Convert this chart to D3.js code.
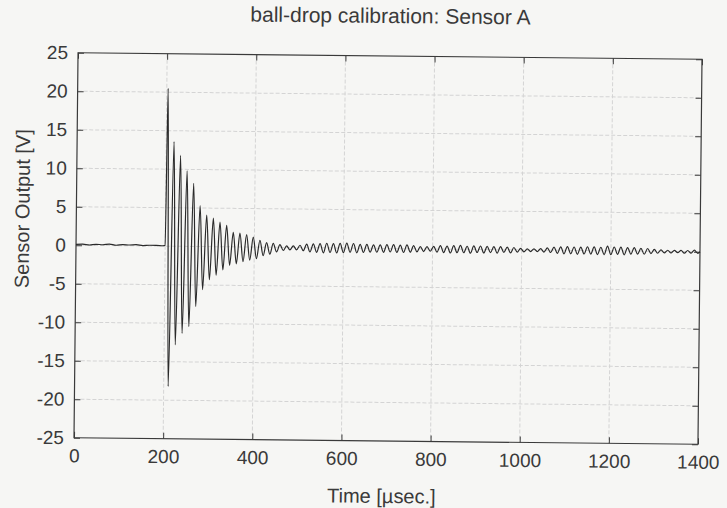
<!DOCTYPE html>
<html>
<head>
<meta charset="utf-8">
<script src="https://cdn.jsdelivr.net/npm/d3@7"></script>
<style>
  body { margin: 0; background: #f6f6f4; }
  svg { display: block; }
</style>
</head>
<body>
<div id="chart-area"></div>
<script>
// pre-trigger baseline
var preTime  = [0, 15, 30, 45, 60, 75, 90, 105, 120, 135, 150, 165, 180, 195, 200];
var preValue = [0.1, 0.15, 0.05, 0.15, 0.1, 0.2, 0.05, 0.15, 0.1, 0.15, 0.05, 0.1, 0.1, 0.05, 0.1];

// ring-down peaks and troughs after the ball hits
var ringTime  = [203, 210, 217.5, 225, 232.5, 240, 247.5, 255, 262.5, 270, 277.5, 285, 292.5, 300,
  307.5, 315, 322.5, 330, 337.5, 345, 352.5, 360, 367.5, 375, 382.5, 390, 397.5, 405, 412.5, 420, 427.5, 435];
var ringValue = [20.5, -18.2, 13.6, -12.8, 11.8, -11.3, 9.8, -10.4, 8.2, -7.8, 5.3, -5.6, 4.1, -4.3,
  3.7, -3.7, 3.2, -3.0, 2.8, -2.4, 1.9, -2.2, 1.8, -1.9, 1.6, -1.7, 1.3, -1.5, 0.9, -1.1, 0.6, -0.9];

// small residual oscillation
var tailTime = [442.5, 450, 457.5, 465, 472.5, 480, 487.5, 495, 502.5, 510, 517.5, 525, 532.5, 540, 547.5, 555,
  562.5, 570, 577.5, 585, 592.5, 600, 607.5, 615, 622.5, 630, 637.5, 645, 652.5, 660, 667.5, 675,
  682.5, 690, 697.5, 705, 712.5, 720, 727.5, 735, 742.5, 750, 757.5, 765, 772.5, 780, 787.5, 795,
  802.5, 810, 817.5, 825, 832.5, 840, 847.5, 855, 862.5, 870, 877.5, 885, 892.5, 900, 907.5, 915,
  922.5, 930, 937.5, 945, 952.5, 960, 967.5, 975, 982.5, 990, 997.5, 1005, 1012.5, 1020, 1027.5, 1035,
  1042.5, 1050, 1057.5, 1065, 1072.5, 1080, 1087.5, 1095, 1102.5, 1110, 1117.5, 1125, 1132.5, 1140, 1147.5, 1155,
  1162.5, 1170, 1177.5, 1185, 1192.5, 1200, 1207.5, 1215, 1222.5, 1230, 1237.5, 1245, 1252.5, 1260, 1267.5, 1275,
  1282.5, 1290, 1297.5, 1305, 1312.5, 1320, 1327.5, 1335, 1342.5, 1350, 1357.5, 1365, 1372.5, 1380, 1387.5, 1395, 1400];
var tailValue = [0.5, -0.6, 0.35, -0.4, 0.2, -0.3, 0.2, -0.3, 0.3, -0.4, 0.45, -0.55, 0.5, -0.6, 0.55, -0.65,
  0.6, -0.6, 0.55, -0.65, 0.6, -0.6, 0.65, -0.55, 0.6, -0.6, 0.5, -0.55, 0.5, -0.5, 0.45, -0.5,
  0.45, -0.5, 0.5, -0.45, 0.5, -0.5, 0.45, -0.5, 0.5, -0.45, 0.4, -0.4, 0.3, -0.35, 0.3, -0.3,
  0.35, -0.4, 0.45, -0.45, 0.4, -0.5, 0.45, -0.45, 0.5, -0.45, 0.4, -0.5, 0.45, -0.4, 0.45, -0.45,
  0.4, -0.4, 0.4, -0.45, 0.4, -0.35, 0.35, -0.4, 0.3, -0.3, 0.2, -0.25, 0.15, -0.2, 0.15, -0.2,
  0.2, -0.25, 0.3, -0.3, 0.4, -0.4, 0.45, -0.45, 0.5, -0.45, 0.45, -0.5, 0.45, -0.45, 0.5, -0.45,
  0.5, -0.5, 0.45, -0.5, 0.6, -0.5, 0.5, -0.45, 0.5, -0.5, 0.45, -0.4, 0.45, -0.4, 0.35, -0.4,
  0.35, -0.3, 0.25, -0.25, 0.2, -0.2, 0.15, -0.2, 0.15, -0.15, 0.15, -0.2, 0.15, -0.2, 0.2, -0.2, 0];

var xTicks = [0, 200, 400, 600, 800, 1000, 1200, 1400];
var yTicks = [-25, -20, -15, -10, -5, 0, 5, 10, 15, 20, 25];

var canvasWidth = 727;
var canvasHeight = 508;
var margin = { left: 76, right: 27, top: 56, bottom: 67 };
var width = canvasWidth - margin.left - margin.right;
var height = canvasHeight - margin.top - margin.bottom;
var font = "'Liberation Sans', Arial, sans-serif";
var ink = "#3a3a3a";

var svg = d3.select("#chart-area")
  .append("svg")
    .attr("width", canvasWidth)
    .attr("height", canvasHeight);

// the scan is a little crooked
var page = svg.append("g")
  .attr("transform", `rotate(0.6,${margin.left + width / 2},${margin.top + height / 2})`);

var g = page.append("g")
  .attr("transform", `translate(${margin.left},${margin.top})`);

var x = d3.scaleLinear().domain([0, 1400]).range([0, width]);
var y = d3.scaleLinear().domain([-25, 25]).range([height, 0]);

// grid
g.selectAll(".xgrid")
  .data(xTicks.slice(1, -1))
  .enter().append("line")
    .attr("x1", d => x(d)).attr("x2", d => x(d))
    .attr("y1", 0).attr("y2", height)
    .attr("stroke", "#d4d4d4")
    .attr("stroke-dasharray", "4,2");
g.selectAll(".ygrid")
  .data(yTicks.slice(1, -1))
  .enter().append("line")
    .attr("x1", 0).attr("x2", width)
    .attr("y1", d => y(d)).attr("y2", d => y(d))
    .attr("stroke", "#d4d4d4")
    .attr("stroke-dasharray", "4,2");

// axes, ticks pointing in
function styleAxis(sel) {
  sel.select(".domain").remove();
  sel.selectAll(".tick line").attr("stroke", ink);
  sel.selectAll(".tick text")
    .attr("fill", ink)
    .attr("font-family", font)
    .attr("font-size", "19px");
}

var plain = d => String(d);

g.append("g")
  .attr("transform", `translate(0,${height})`)
  .call(d3.axisBottom(x).tickValues(xTicks).tickFormat(plain).tickSize(-6).tickPadding(11))
  .call(styleAxis);
g.append("g")
  .call(d3.axisLeft(y).tickValues(yTicks).tickFormat(plain).tickSize(-6).tickPadding(10))
  .call(styleAxis);
g.append("g")
  .call(d3.axisTop(x).tickValues(xTicks).tickSize(-6).tickFormat(""))
  .call(styleAxis);
g.append("g")
  .attr("transform", `translate(${width},0)`)
  .call(d3.axisRight(y).tickValues(yTicks).tickSize(-6).tickFormat(""))
  .call(styleAxis);

g.append("rect")
  .attr("width", width)
  .attr("height", height)
  .attr("fill", "none")
  .attr("stroke", ink)
  .attr("stroke-width", 1.2);

// signal
var time = preTime.concat(ringTime, tailTime);
var value = preValue.concat(ringValue, tailValue);
var data = time.map((t, i) => ({ t: t, v: value[i] }));

var line = d3.line()
  .x(d => x(d.t))
  .y(d => y(d.v))
  .curve(d3.curveMonotoneX);

g.append("path")
  .datum(data)
  .attr("d", line)
  .attr("fill", "none")
  .attr("stroke", "#2a2a2a")
  .attr("stroke-width", 1.2);

// labels
g.append("text")
  .attr("x", width / 2)
  .attr("y", -33)
  .attr("text-anchor", "middle")
  .attr("font-family", font)
  .attr("font-size", "21px")
  .attr("fill", ink)
  .text("ball-drop calibration: Sensor A");

g.append("text")
  .attr("x", width / 2 - 4)
  .attr("y", height + 62)
  .attr("text-anchor", "middle")
  .attr("font-family", font)
  .attr("font-size", "20px")
  .attr("fill", ink)
  .text("Time [µsec.]");

g.append("text")
  .attr("transform", "rotate(-90)")
  .attr("x", -(height / 2) + 36)
  .attr("y", -margin.left + 29)
  .attr("text-anchor", "middle")
  .attr("font-family", font)
  .attr("font-size", "20px")
  .attr("fill", ink)
  .text("Sensor Output [V]");
</script>
</body>
</html>
